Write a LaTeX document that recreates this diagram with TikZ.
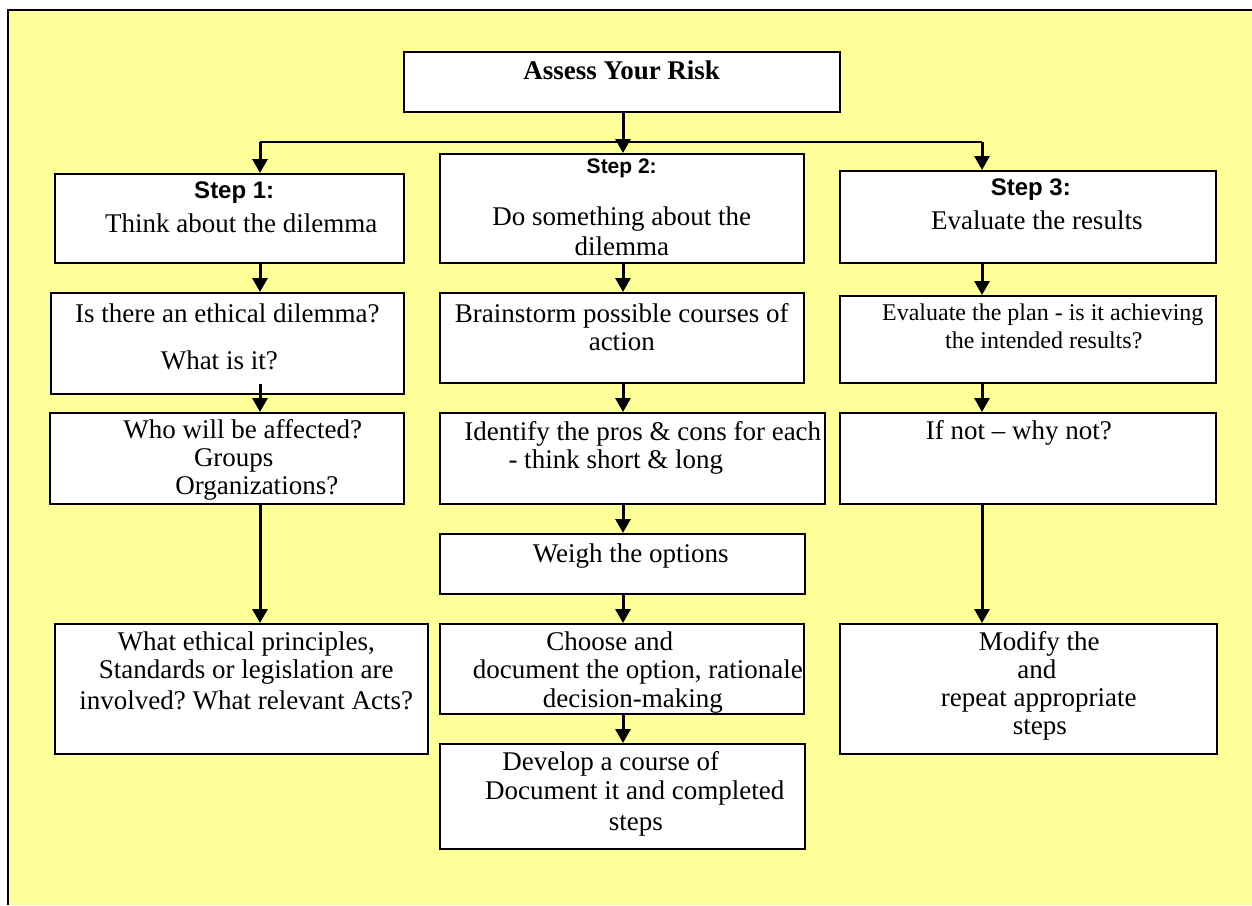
\documentclass[tikz,border=0pt]{standalone}
\usepackage{fontspec}
\setmainfont{Liberation Serif}
\newfontfamily\stepfont{Liberation Sans}
\usepackage{tikz}
\usetikzlibrary{arrows.meta}
\definecolor{paleyellow}{RGB}{255,255,153}
\frenchspacing

\begin{document}
\begin{tikzpicture}[x=0.5pt,y=-0.5pt,
    box/.style={draw,fill=white,line width=0.75pt,anchor=north west,inner sep=0pt,align=flush center,font=\fontsize{13.5}{14}\selectfont},
    arr/.style={line width=1.5pt,-{Triangle[width=7.5pt,length=7pt]}}]
    \useasboundingbox (0,0) rectangle (1252,905);
    \fill[paleyellow] (8,10) rectangle (1252,905);
    \draw[line width=1pt] (1252,10) -- (8,10) -- (8,905);
    % columns of arrows
    \coordinate (colA) at (260,0);
    \coordinate (colB) at (623,0);
    \coordinate (colC) at (982,0);
    \coordinate (fork) at (623,142);
    % top
    \node[box,text width=218pt,text height=14pt,text depth=16pt,font=\bfseries\fontsize{13.5}{14}\selectfont] (risk) at (403,51) {Assess Your Risk};
    % step 1
    \node[box,text width=174.5pt,text height=12.5pt,text depth=32pt] (s1) at (54,173) {\hspace*{5pt}{\stepfont\bfseries\fontsize{12}{14}\selectfont Step 1:}\\[3pt]\hspace*{12pt}Think about the dilemma};
    \node[box,text width=176.5pt,text height=15pt,text depth=35.5pt] (dil) at (50,292) {Is there an ethical dilemma?\\[9.5pt]\hspace*{-8pt}What is it?};
    \node[box,text width=177pt,text height=13pt,text depth=32.5pt] (who) at (49,412) {\hspace*{16pt}Who will be affected?\\\hspace*{7pt}Groups\\\hspace*{30pt}Organizations?};
    \node[box,text width=186.5pt,text height=13.5pt,text depth=51.5pt] (law) at (54,623) {\hspace*{5pt}What ethical principles,\\\hspace*{5pt}Standards or legislation are\\[1.5pt]\hspace*{5pt}involved? What relevant Acts?};
    % step 2
    \node[box,text width=182pt,text height=10pt,text depth=44.5pt] (s2) at (439,153) {{\stepfont\bfseries\fontsize{10.5}{14}\selectfont Step 2:}\\[12pt]Do something about the\\[1pt]dilemma};
    \node[box,text width=182pt,text height=15pt,text depth=30pt] (brain) at (439,292) {Brainstorm possible courses of\\action};
    \node[box,text width=192.5pt,text height=14pt,text depth=31.5pt] (pros) at (439,412) {\hspace*{10.5pt}Identify the pros \& cons for each\\\hspace*{-16.5pt}- think short \& long};
    \node[box,text width=182.5pt,text height=14.5pt,text depth=15.5pt] (weigh) at (439,533) {\hspace*{8.5pt}Weigh the options};
    \node[box,text width=182pt,text height=13.5pt,text depth=31.5pt] (choose) at (439,623) {\hspace*{-12pt}Choose and\\\hspace*{16pt}document the option, rationale\\[0.5pt]\hspace*{11pt}decision-making};
    \node[box,text width=182.5pt,text height=13.5pt,text depth=39pt] (dev) at (439,743) {\hspace*{-11.5pt}Develop a course of\\[0.5pt]\hspace*{12.5pt}Document it and completed\\[1.5pt]\hspace*{13.5pt}steps};
    % step 3
    \node[box,text width=188pt,text height=12.5pt,text depth=33.5pt] (s3) at (839,170) {\hspace*{3pt}{\stepfont\bfseries\fontsize{12}{14}\selectfont Step 3:}\\[3pt]\hspace*{9pt}Evaluate the results};
    \node[box,text width=188pt,text height=12.5pt,text depth=31pt,font=\fontsize{12}{14}\selectfont] (plan) at (839,295) {\hspace*{15pt}Evaluate the plan - is it achieving\\\hspace*{16pt}the intended results?};
    \node[box,text width=188pt,text height=13.5pt,text depth=32pt] (why) at (839,412) {\hspace*{-9pt}If not -- why not?};
    \node[box,text width=188.5pt,text height=13.5pt,text depth=51.5pt] (mod) at (839,623) {\hspace*{11pt}Modify the\\\hspace*{8.5pt}and\\\hspace*{10.5pt}repeat appropriate\\\hspace*{11.5pt}steps};
    % connectors
    \draw[arr] (risk.south -| colB) -- (s2.north -| colB);
    \draw[line width=1pt] (fork -| colA) -- (fork -| colC);
    \draw[arr] (fork -| colA) -- (s1.north -| colA);
    \draw[arr] (fork -| colC) -- (s3.north -| colC);
    \draw[arr] (s1.south -| colA) -- (dil.north -| colA);
    \draw[arr] ([yshift=5.5pt]dil.south -| colA) -- (who.north -| colA);
    \draw[arr] (who.south -| colA) -- (law.north -| colA);
    \draw[arr] (s2.south -| colB) -- (brain.north -| colB);
    \draw[arr] (brain.south -| colB) -- (pros.north -| colB);
    \draw[arr] (pros.south -| colB) -- (weigh.north -| colB);
    \draw[arr] (weigh.south -| colB) -- (choose.north -| colB);
    \draw[arr] (choose.south -| colB) -- (dev.north -| colB);
    \draw[arr] (s3.south -| colC) -- (plan.north -| colC);
    \draw[arr] (plan.south -| colC) -- (why.north -| colC);
    \draw[arr] (why.south -| colC) -- (mod.north -| colC);
\end{tikzpicture}
\end{document}
